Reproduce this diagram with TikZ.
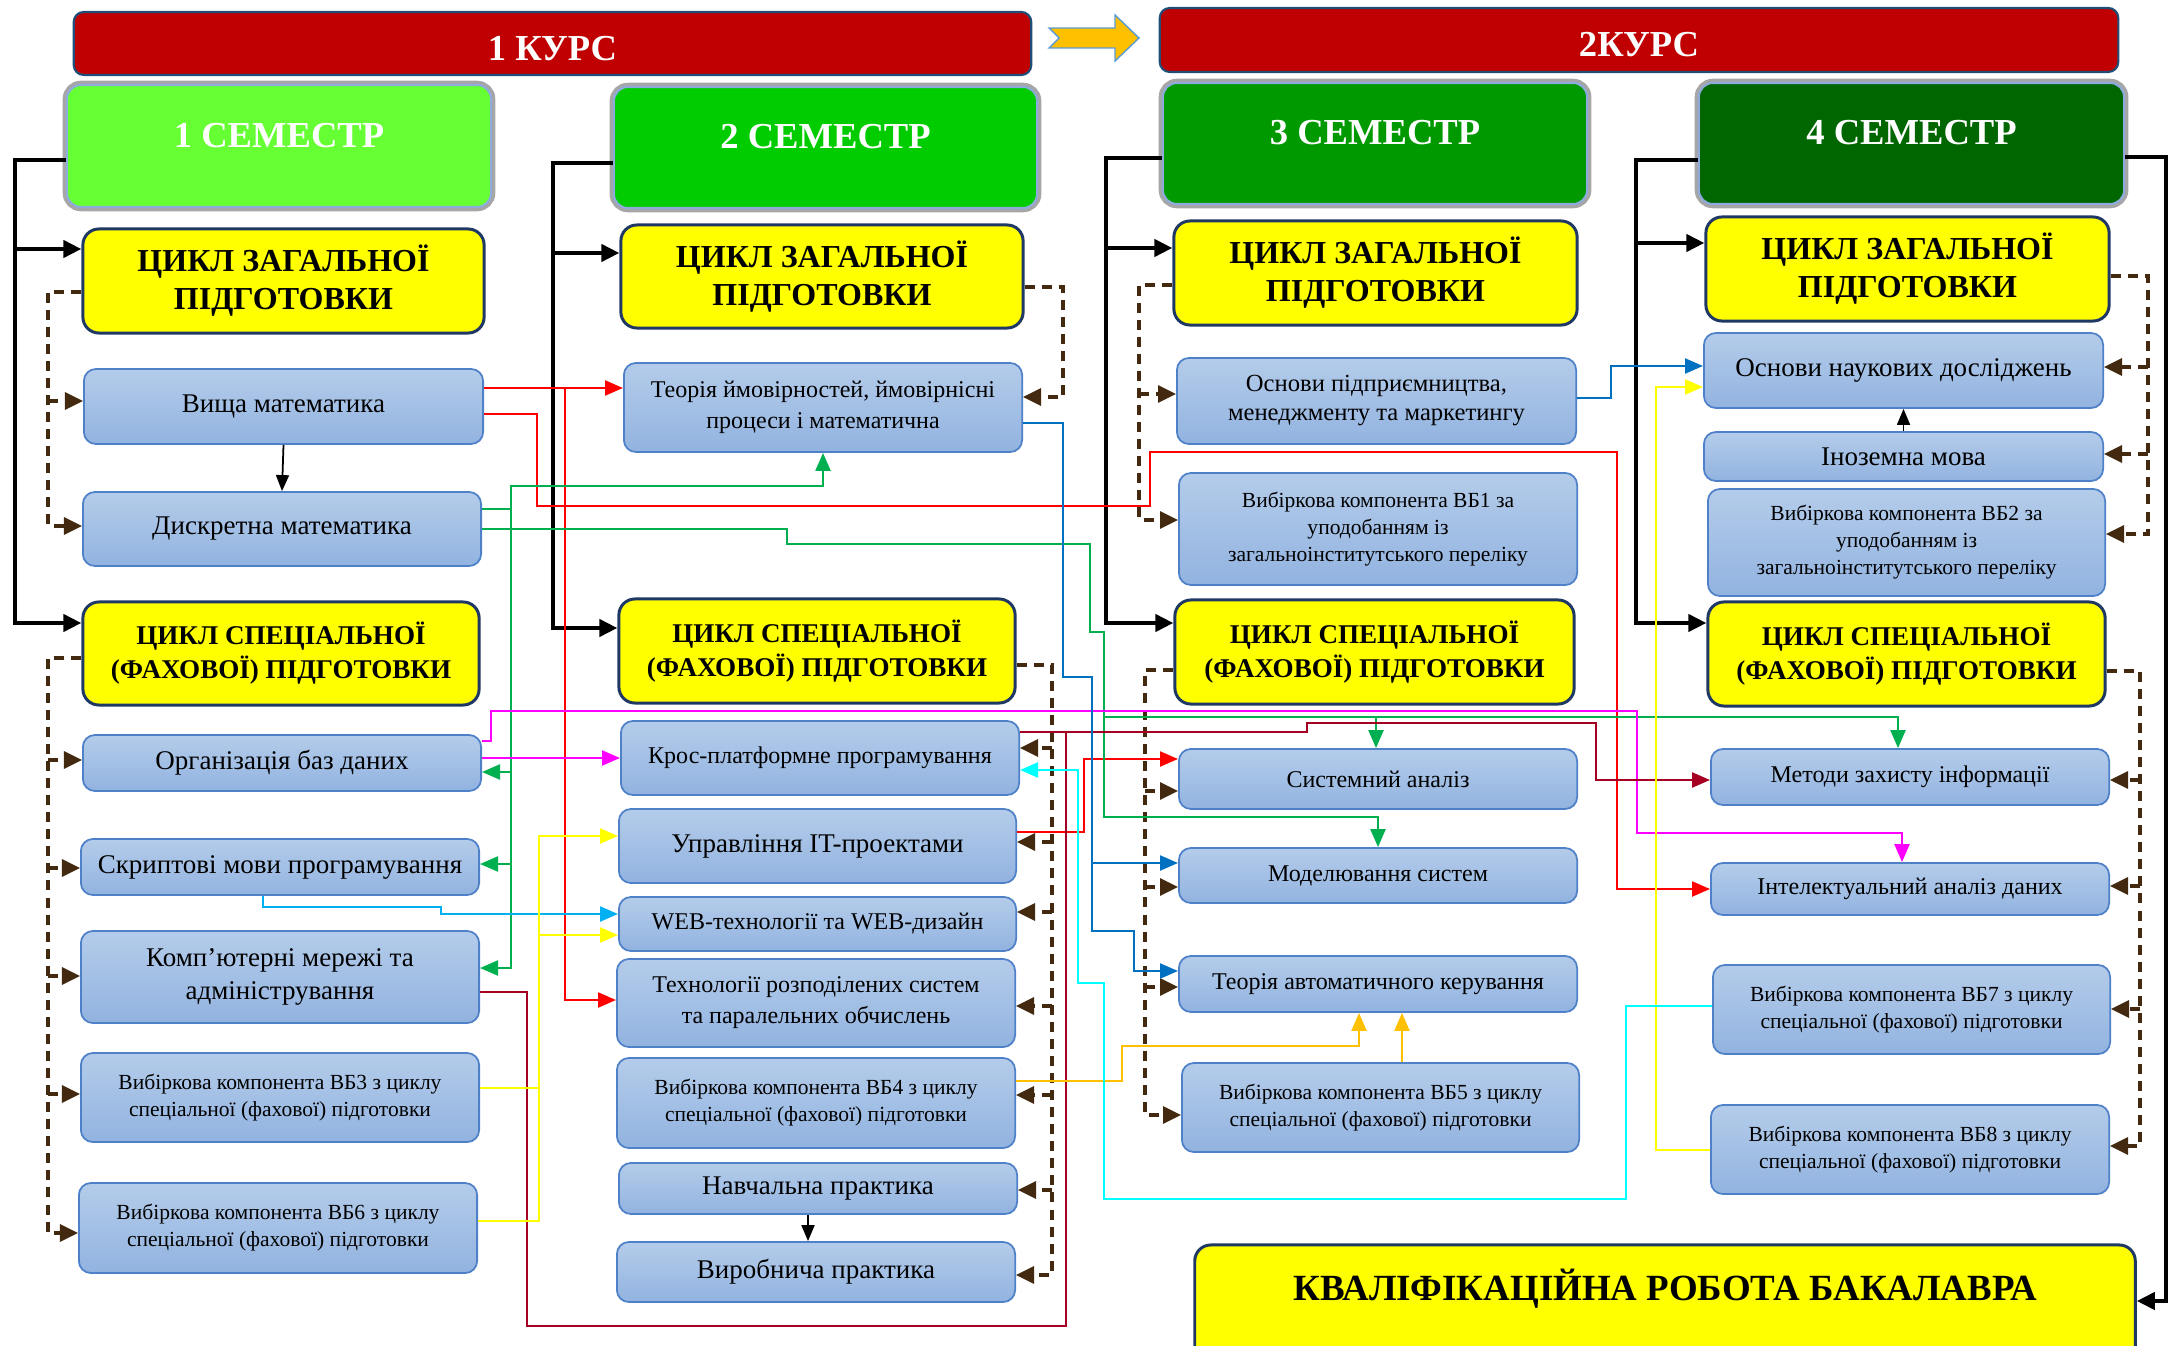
\documentclass[tikz,border=0pt]{standalone}
\usepackage{fontspec}
\setmainfont{Liberation Serif}
\usetikzlibrary{arrows.meta}
\definecolor{boxtop}{HTML}{B4CCEA}
\definecolor{boxbot}{HTML}{92B3E0}
\definecolor{boxbd}{HTML}{4F81C8}
\definecolor{ybd}{HTML}{1F3864}
\definecolor{krs}{HTML}{C00000}
\definecolor{krsbd}{HTML}{1F4E79}
\definecolor{semA}{HTML}{66FF33}
\definecolor{semB}{HTML}{00CC00}
\definecolor{semC}{HTML}{009900}
\definecolor{semD}{HTML}{006600}
\definecolor{semgray}{HTML}{A6A6A6}
\definecolor{sembd}{HTML}{8FAADC}
\definecolor{brn}{HTML}{43290F}
\definecolor{grn}{HTML}{00B050}
\definecolor{mag}{HTML}{FF00FF}
\definecolor{mar}{HTML}{A50021}
\definecolor{blu}{HTML}{0070C0}
\definecolor{sky}{HTML}{00B0F0}
\definecolor{ylw}{HTML}{FFFF00}
\definecolor{org}{HTML}{FFC000}
\definecolor{cyn}{HTML}{00FFFF}
\definecolor{arrbd}{HTML}{5B9BD5}
\newcommand\fntK{\fontsize{10.4pt}{12pt}\selectfont\bfseries}
\newcommand\fntG{\fontsize{9.1pt}{10.8pt}\selectfont\bfseries}
\newcommand\fntS{\fontsize{7.7pt}{9.67pt}\selectfont\bfseries}
\newcommand\fntQ{\fontsize{10.5pt}{12pt}\selectfont\bfseries}
\newcommand\fntA{\fontsize{7.68pt}{9.2pt}\selectfont}
\newcommand\fntAk{\fontsize{7.68pt}{9.39pt}\selectfont}
\newcommand\fntB{\fontsize{6.83pt}{8.2pt}\selectfont}
\newcommand\fntBt{\fontsize{6.83pt}{8.82pt}\selectfont}
\newcommand\fntBo{\fontsize{7.0pt}{8.25pt}\selectfont}
\newcommand\fntC{\fontsize{6.12pt}{7.68pt}\selectfont}
\tikzset{
 kurs/.style={draw=krsbd, line width=0.6pt, fill=krs, rounded corners=0.1cm, text=white, font=\fntK, inner sep=0pt, text height=0.34cm},
 sem/.style={draw=sembd, line width=0.6pt, rounded corners=0.14cm, text=white, font=\fntK, inner sep=0pt, text depth=0.22cm, preaction={draw=semgray, line width=2.4pt}},
 ybox/.style={draw=ybd, line width=0.85pt, fill=ylw, rounded corners=0.16cm, inner sep=0pt, align=center},
 ygen/.style={ybox, font=\fntG},
 yspc/.style={ybox, font=\fntS},
 bbox/.style={draw=boxbd, line width=0.5pt, rounded corners=0.12cm, top color=boxtop, bottom color=boxbot, inner sep=0pt, align=center},
 blk/.style={line width=1.14pt, -{Triangle[length=0.18cm,width=0.17cm]}},
 thn/.style={line width=0.5pt, -{Triangle[length=0.16cm,width=0.13cm]}},
 dsh/.style={draw=brn, line width=0.9pt, dash pattern=on 2.85pt off 2pt, -{Triangle[length=0.18cm,width=0.17cm]}},
 cl/.style={line width=0.65pt, -{Triangle[length=0.18cm,width=0.15cm]}},
}
\begin{document}
\begin{tikzpicture}[x=0.01cm,y=-0.01cm]
\useasboundingbox (0,0) rectangle (2170,1346);
\clip (0,0) rectangle (2170,1346);
% headers
\node[kurs,minimum width=9.57cm,minimum height=0.63cm] (k1) at (552.5,43.5) {1 КУРС};
\node[kurs,minimum width=9.58cm,minimum height=0.64cm] (k2) at (1639,40) {2КУРС};
\filldraw[draw=arrbd, fill=org, line width=0.4pt] (1049,28) -- (1115,28) -- (1115,15) -- (1139,38) -- (1115,61) -- (1115,48) -- (1049,48) -- (1059,38) -- cycle;
% semesters
\node[sem,fill=semA,minimum width=4.24cm,minimum height=1.22cm] (s1) at (279,146) {1 СЕМЕСТР};
\node[sem,fill=semB,minimum width=4.23cm,minimum height=1.21cm] (s2) at (825.5,147.5) {2 СЕМЕСТР};
\node[sem,fill=semC,minimum width=4.24cm,minimum height=1.21cm] (s3) at (1375,143.5) {3 СЕМЕСТР};
\node[sem,fill=semD,minimum width=4.25cm,minimum height=1.21cm] (s4) at (1911.5,143.5) {4 СЕМЕСТР};
% general cycles
\node[ygen,minimum width=4.01cm,minimum height=1.04cm] (g1) at (283.5,281) {ЦИКЛ ЗАГАЛЬНОЇ\\ПІДГОТОВКИ};
\node[ygen,minimum width=4.02cm,minimum height=1.03cm] (g2) at (822,276.5) {ЦИКЛ ЗАГАЛЬНОЇ\\ПІДГОТОВКИ};
\node[ygen,minimum width=4.03cm,minimum height=1.04cm] (g3) at (1375.5,273) {ЦИКЛ ЗАГАЛЬНОЇ\\ПІДГОТОВКИ};
\node[ygen,minimum width=4.03cm,minimum height=1.04cm] (g4) at (1907.5,269) {ЦИКЛ ЗАГАЛЬНОЇ\\ПІДГОТОВКИ};
% special cycles
\node[yspc,minimum width=3.96cm,minimum height=1.03cm] (c1) at (281,653.5) {ЦИКЛ СПЕЦІАЛЬНОЇ\\(ФАХОВОЇ) ПІДГОТОВКИ};
\node[yspc,minimum width=3.96cm,minimum height=1.04cm] (c2) at (817,651) {ЦИКЛ СПЕЦІАЛЬНОЇ\\(ФАХОВОЇ) ПІДГОТОВКИ};
\node[yspc,minimum width=3.99cm,minimum height=1.04cm] (c3) at (1374.5,652) {ЦИКЛ СПЕЦІАЛЬНОЇ\\(ФАХОВОЇ) ПІДГОТОВКИ};
\node[yspc,minimum width=3.97cm,minimum height=1.04cm] (c4) at (1906.5,654) {ЦИКЛ СПЕЦІАЛЬНОЇ\\(ФАХОВОЇ) ПІДГОТОВКИ};
% final
\node[ybox,font=\fntQ,text depth=0.40cm,minimum width=9.40cm,minimum height=1.20cm] (q) at (1665,1305) {КВАЛІФІКАЦІЙНА РОБОТА БАКАЛАВРА};
% column 1
\node[bbox,font=\fntA,minimum width=3.99cm,minimum height=0.75cm] (vm) at (283.5,406.5) {Вища математика};
\node[bbox,font=\fntA,minimum width=3.98cm,minimum height=0.74cm] (dm) at (282,529) {Дискретна математика};
\node[bbox,font=\fntA,minimum width=3.98cm,minimum height=0.56cm] (ob) at (282,763) {Організація баз даних};
\node[bbox,font=\fntA,minimum width=3.98cm,minimum height=0.56cm] (sm) at (280,867) {Скриптові мови програмування};
\node[bbox,font=\fntAk,minimum width=3.98cm,minimum height=0.92cm] (km) at (280,977) {Комп’ютерні мережі та\\адміністрування};
\node[bbox,font=\fntC,minimum width=3.98cm,minimum height=0.89cm] (v3) at (280,1097.5) {Вибіркова компонента ВБ3 з циклу\\спеціальної (фахової) підготовки};
\node[bbox,font=\fntC,minimum width=3.98cm,minimum height=0.90cm] (v6) at (278,1228) {Вибіркова компонента ВБ6 з циклу\\спеціальної (фахової) підготовки};
% column 2
\node[bbox,font=\fntBt,minimum width=3.98cm,minimum height=0.89cm] (tp) at (823,407.5) {Теорія ймовірностей, ймовірнісні\\процеси і математична};
\node[bbox,font=\fntB,minimum width=3.98cm,minimum height=0.74cm] (kp) at (820,758) {Крос-платформне програмування};
\node[bbox,font=\fntA,minimum width=3.97cm,minimum height=0.74cm] (ui) at (817.5,846) {Управління IT-проектами};
\node[bbox,font=\fntB,minimum width=3.97cm,minimum height=0.54cm] (wb) at (817.5,924) {WEB-технології та WEB-дизайн};
\node[bbox,font=\fntBt,minimum width=3.98cm,minimum height=0.88cm] (tr) at (816,1003) {Технології розподілених систем\\та паралельних обчислень};
\node[bbox,font=\fntC,minimum width=3.98cm,minimum height=0.90cm] (v4) at (816,1103) {Вибіркова компонента ВБ4 з циклу\\спеціальної (фахової) підготовки};
\node[bbox,font=\fntA,minimum width=3.98cm,minimum height=0.51cm] (np) at (818,1188.5) {Навчальна практика};
\node[bbox,font=\fntA,minimum width=3.98cm,minimum height=0.60cm] (vp) at (816,1272) {Виробнича практика};
% column 3
\node[bbox,font=\fntBo,minimum width=3.99cm,minimum height=0.86cm] (op) at (1376.5,401) {Основи підприємництва,\\менеджменту та маркетингу};
\node[bbox,font=\fntC,minimum width=3.98cm,minimum height=1.12cm] (v1) at (1378,529) {Вибіркова компонента ВБ1 за\\уподобанням із\\загальноінститутського переліку};
\node[bbox,font=\fntB,minimum width=3.98cm,minimum height=0.60cm] (sa) at (1378,779) {Системний аналіз};
\node[bbox,font=\fntB,minimum width=3.98cm,minimum height=0.55cm] (ms) at (1378,875.5) {Моделювання систем};
\node[bbox,font=\fntB,minimum width=3.98cm,minimum height=0.56cm] (ta) at (1378,984) {Теорія автоматичного керування};
\node[bbox,font=\fntC,minimum width=3.97cm,minimum height=0.89cm] (v5) at (1380.5,1107.5) {Вибіркова компонента ВБ5 з циклу\\спеціальної (фахової) підготовки};
% column 4
\node[bbox,font=\fntA,minimum width=3.99cm,minimum height=0.75cm] (on) at (1903.5,370.5) {Основи наукових досліджень};
\node[bbox,font=\fntA,minimum width=3.99cm,minimum height=0.49cm] (im) at (1903.5,456.5) {Іноземна мова};
\node[bbox,font=\fntC,minimum width=3.97cm,minimum height=1.07cm] (v2) at (1906.5,542.5) {Вибіркова компонента ВБ2 за\\уподобанням із\\загальноінститутського переліку};
\node[bbox,font=\fntB,minimum width=3.98cm,minimum height=0.56cm] (mz) at (1910,777) {Методи захисту інформації};
\node[bbox,font=\fntB,minimum width=3.98cm,minimum height=0.52cm] (ia) at (1910,889) {Інтелектуальний аналіз даних};
\node[bbox,font=\fntC,minimum width=3.97cm,minimum height=0.89cm] (v7) at (1911.5,1009.5) {Вибіркова компонента ВБ7 з циклу\\спеціальної (фахової) підготовки};
\node[bbox,font=\fntC,minimum width=3.98cm,minimum height=0.89cm] (v8) at (1910,1149.5) {Вибіркова компонента ВБ8 з циклу\\спеціальної (фахової) підготовки};
% black semester connectors
\draw[blk] (s1.west|-0,160) -| (15,249) -- (g1.west|-0,249);
\draw[blk] (15,240) |- (c1.west|-0,623);
\draw[blk] (s2.west|-0,163) -| (553,253) -- (g2.west|-0,253);
\draw[blk] (553,245) |- (c2.west|-0,628);
\draw[blk] (s3.west|-0,158) -| (1106,248) -- (g3.west|-0,248);
\draw[blk] (1106,240) |- (c3.west|-0,623);
\draw[blk] (s4.west|-0,160) -| (1636,243) -- (g4.west|-0,243);
\draw[blk] (1636,235) |- (c4.west|-0,623);
\draw[blk] (s4.east|-0,157) -| (2166,1301) -- (q.east|-0,1301);
% thin black
\draw[thn] (vm.south) -- (dm.north);
\draw[thn] (np.south-|808,0) -- (vp.north-|808,0);
\draw[thn] (im.north) -- (on.south);
% dashed brown
\draw[dsh] (g1.west|-0,292) -| (48,526) -- (dm.west|-0,526);
\draw[dsh] (48,401) -- (vm.west|-0,401);
\draw[dsh] (c1.west|-0,658) -| (48,1233) -- (v6.west|-0,1233);
\foreach \n/\y in {ob/760, sm/868, km/976, v3/1094} \draw[dsh] (48,\y) -- (\n.west|-0,\y);
\draw[dsh] (g2.east|-0,287) -| (1063,397) -- (tp.east|-0,397);
\draw[dsh] (c2.east|-0,665) -| (1052,1275) -- (vp.east|-0,1275);
\foreach \n/\y in {kp/748, ui/842, wb/912, tr/1006, v4/1095, np/1190} \draw[dsh] (1052,\y) -- (\n.east|-0,\y);
\draw[dsh] (g3.west|-0,285) -| (1139,520) -- (v1.west|-0,520);
\draw[dsh] (1139,394) -- (op.west|-0,394);
\draw[dsh] (c3.west|-0,670) -| (1145,1115) -- (v5.west|-0,1115);
\foreach \n/\y in {sa/791, ms/887, ta/987} \draw[dsh] (1145,\y) -- (\n.west|-0,\y);
\draw[dsh] (g4.east|-0,276) -| (2148,534) -- (v2.east|-0,534);
\foreach \n/\y in {on/367, im/454} \draw[dsh] (2148,\y) -- (\n.east|-0,\y);
\draw[dsh] (c4.east|-0,671) -| (2140,1146) -- (v8.east|-0,1146);
\foreach \n/\y in {mz/780, ia/886, v7/1009} \draw[dsh] (2140,\y) -- (\n.east|-0,\y);
% red
\draw[cl,red] (vm.east|-0,388) -- (tp.west|-0,388);
\draw[cl,red] (vm.east|-0,388) -| (565,1000) -- (tr.west|-0,1000);
\draw[cl,red] (vm.east|-0,414) -| (537,506) -| (1150,452) -| (1617,889) -- (ia.west|-0,889);
\draw[cl,red] (ui.east|-0,832) -| (1084,759) -- (sa.west|-0,759);
% green
\draw[cl,grn] (dm.east|-0,509) -| (511,486) -| (tp.south);
\draw[cl,grn] (511,486) |- (km.east|-0,968);
\draw[cl,grn] (511,760) |- (ob.east|-0,772);
\draw[cl,grn] (511,850) |- (sm.east|-0,864);
\draw[cl,grn] (dm.east|-0,529) -| (787,544) -| (1090,632) -| (1104,817) -| (ms.north);
\draw[cl,grn] (1104,717) -| (mz.north-|1898,0);
\draw[cl,grn] (1376,717) -- (sa.north-|1376,0);
% magenta
\draw[cl,mag] (ob.east|-0,741) -| (491,711) -| (1637,833) -| (ia.north-|1902,0);
\draw[cl,mag] (ob.east|-0,758) -- (kp.west|-0,758);
% maroon
\draw[cl,mar,-] (km.east|-0,992) -| (527,1326) -| (1066,732);
\draw[cl,mar] (kp.east|-0,732) -| (1307,723) -| (1596,780) -- (mz.west|-0,780);
% blue
\draw[cl,blu] (tp.east|-0,423) -| (1063,677) -| (1092,931) -| (1134,971) -- (ta.west|-0,971);
\draw[cl,blu] (1092,863) -- (ms.west|-0,863);
\draw[cl,blu] (op.east|-0,398) -| (1611,366) -- (on.west|-0,366);
% sky
\draw[cl,sky] (sm.south-|263,0) |- (441,907) |- (wb.west|-0,914);
% yellow
\draw[cl,ylw] (v6.east|-0,1221) -| (539,836) -- (ui.west|-0,836);
\draw[cl,ylw] (v3.east|-0,1088) -| (539,935) -- (wb.west|-0,935);
\draw[cl,ylw] (v8.west|-0,1150) -| (1656,387) -- (on.west|-0,387);
% orange
\draw[cl,org] (v4.east|-0,1081) -| (1122,1046) -| (ta.south-|1359,0);
\draw[cl,org] (v5.north-|1402,0) -- (ta.south-|1402,0);
% cyan
\draw[cl,cyn] (v7.west|-0,1006) -| (1626,1199) -| (1104,983) -| (1078,770) -- (kp.east|-0,770);
\end{tikzpicture}
\end{document}
